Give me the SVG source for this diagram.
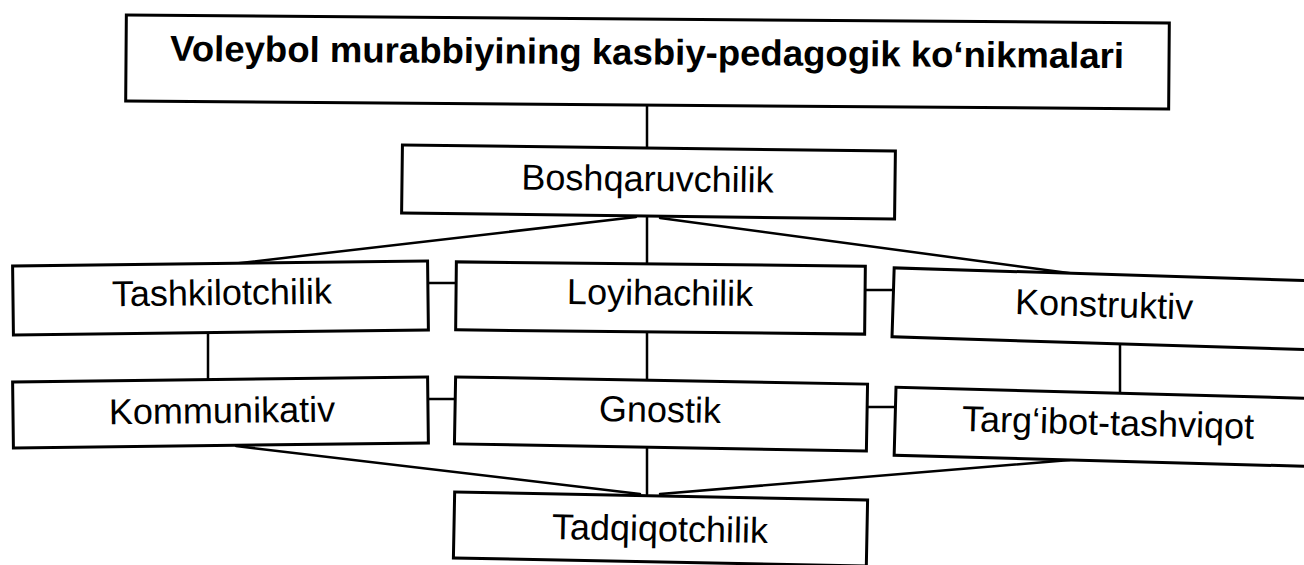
<svg xmlns="http://www.w3.org/2000/svg" width="1304" height="565" viewBox="0 0 1304 565">
  <style>
    .box { fill: #ffffff; stroke: #000000; stroke-width: 3; }
    .lbl { font-family: "Liberation Sans", Arial, sans-serif; font-size: 36px; fill: #000000; text-anchor: middle; }
    .ttl { font-family: "Liberation Sans", Arial, sans-serif; font-size: 36px; font-weight: bold; fill: #000000; text-anchor: middle; }
    .con { stroke: #000000; stroke-width: 2.5; fill: none; stroke-linecap: round; }
  </style>
  <rect width="1304" height="565" fill="#ffffff"/>
  <g id="connectors">
    <line class="con" x1="647" y1="104" x2="647" y2="147"/>
    <line class="con" x1="647" y1="217" x2="647" y2="264"/>
    <line class="con" x1="647" y1="332" x2="647" y2="380"/>
    <line class="con" x1="647" y1="447" x2="647" y2="494"/>
    <line class="con" x1="208" y1="333" x2="208" y2="380"/>
    <line class="con" x1="1120" y1="344" x2="1120" y2="393"/>
    <line class="con" x1="428" y1="283" x2="456" y2="283"/>
    <line class="con" x1="865" y1="290" x2="893" y2="290"/>
    <line class="con" x1="428" y1="399" x2="455" y2="399"/>
    <line class="con" x1="867" y1="407" x2="895" y2="407"/>
    <line class="con" x1="636" y1="217" x2="236" y2="263.5"/>
    <line class="con" x1="660" y1="218" x2="1076" y2="274"/>
    <line class="con" x1="236" y1="446" x2="640" y2="494"/>
    <line class="con" x1="1070" y1="460" x2="660" y2="494"/>
  </g>
  <g id="node-title" transform="rotate(0.44 647.5 62)">
    <rect class="box" x="126" y="19" width="1043" height="86"/>
    <text class="ttl" x="647" y="64.5" textLength="954" lengthAdjust="spacingAndGlyphs">Voleybol murabbiyining kasbiy-pedagogik ko‘nikmalari</text>
  </g>
  <g id="node-boshqaruvchilik" transform="rotate(0.7 648.5 182)">
    <rect class="box" x="402" y="148" width="493" height="68"/>
    <text class="lbl" x="647.5" y="191">Boshqaruvchilik</text>
  </g>
  <g id="node-tashkilotchilik" transform="rotate(-0.69 220.5 298)">
    <rect class="box" x="13" y="263.5" width="415" height="69"/>
    <text class="lbl" x="222" y="305">Tashkilotchilik</text>
  </g>
  <g id="node-loyihachilik" transform="rotate(0.6 660.5 298)">
    <rect class="box" x="456" y="264" width="409" height="68"/>
    <text class="lbl" x="660" y="305">Loyihachilik</text>
  </g>
  <g id="node-konstruktiv" transform="rotate(1.78 1108 309)">
    <rect class="box" x="893" y="274.5" width="430" height="69"/>
    <text class="lbl" x="1104" y="317">Konstruktiv</text>
  </g>
  <g id="node-kommunikativ" transform="rotate(-0.69 220.5 412.5)">
    <rect class="box" x="13" y="379.5" width="415" height="66"/>
    <text class="lbl" x="222" y="423">Kommunikativ</text>
  </g>
  <g id="node-gnostik" transform="rotate(1 661 414)">
    <rect class="box" x="455" y="380.5" width="412" height="67"/>
    <text class="lbl" x="660" y="422">Gnostik</text>
  </g>
  <g id="node-targibot" transform="rotate(1.55 1110 427)">
    <rect class="box" x="895" y="393" width="430" height="68"/>
    <text class="lbl" x="1108" y="435">Targ‘ibot-tashviqot</text>
  </g>
  <g id="node-tadqiqotchilik" transform="rotate(1.1 660.5 529)">
    <rect class="box" x="454" y="496" width="413" height="66"/>
    <text class="lbl" x="660" y="541">Tadqiqotchilik</text>
  </g>
</svg>
